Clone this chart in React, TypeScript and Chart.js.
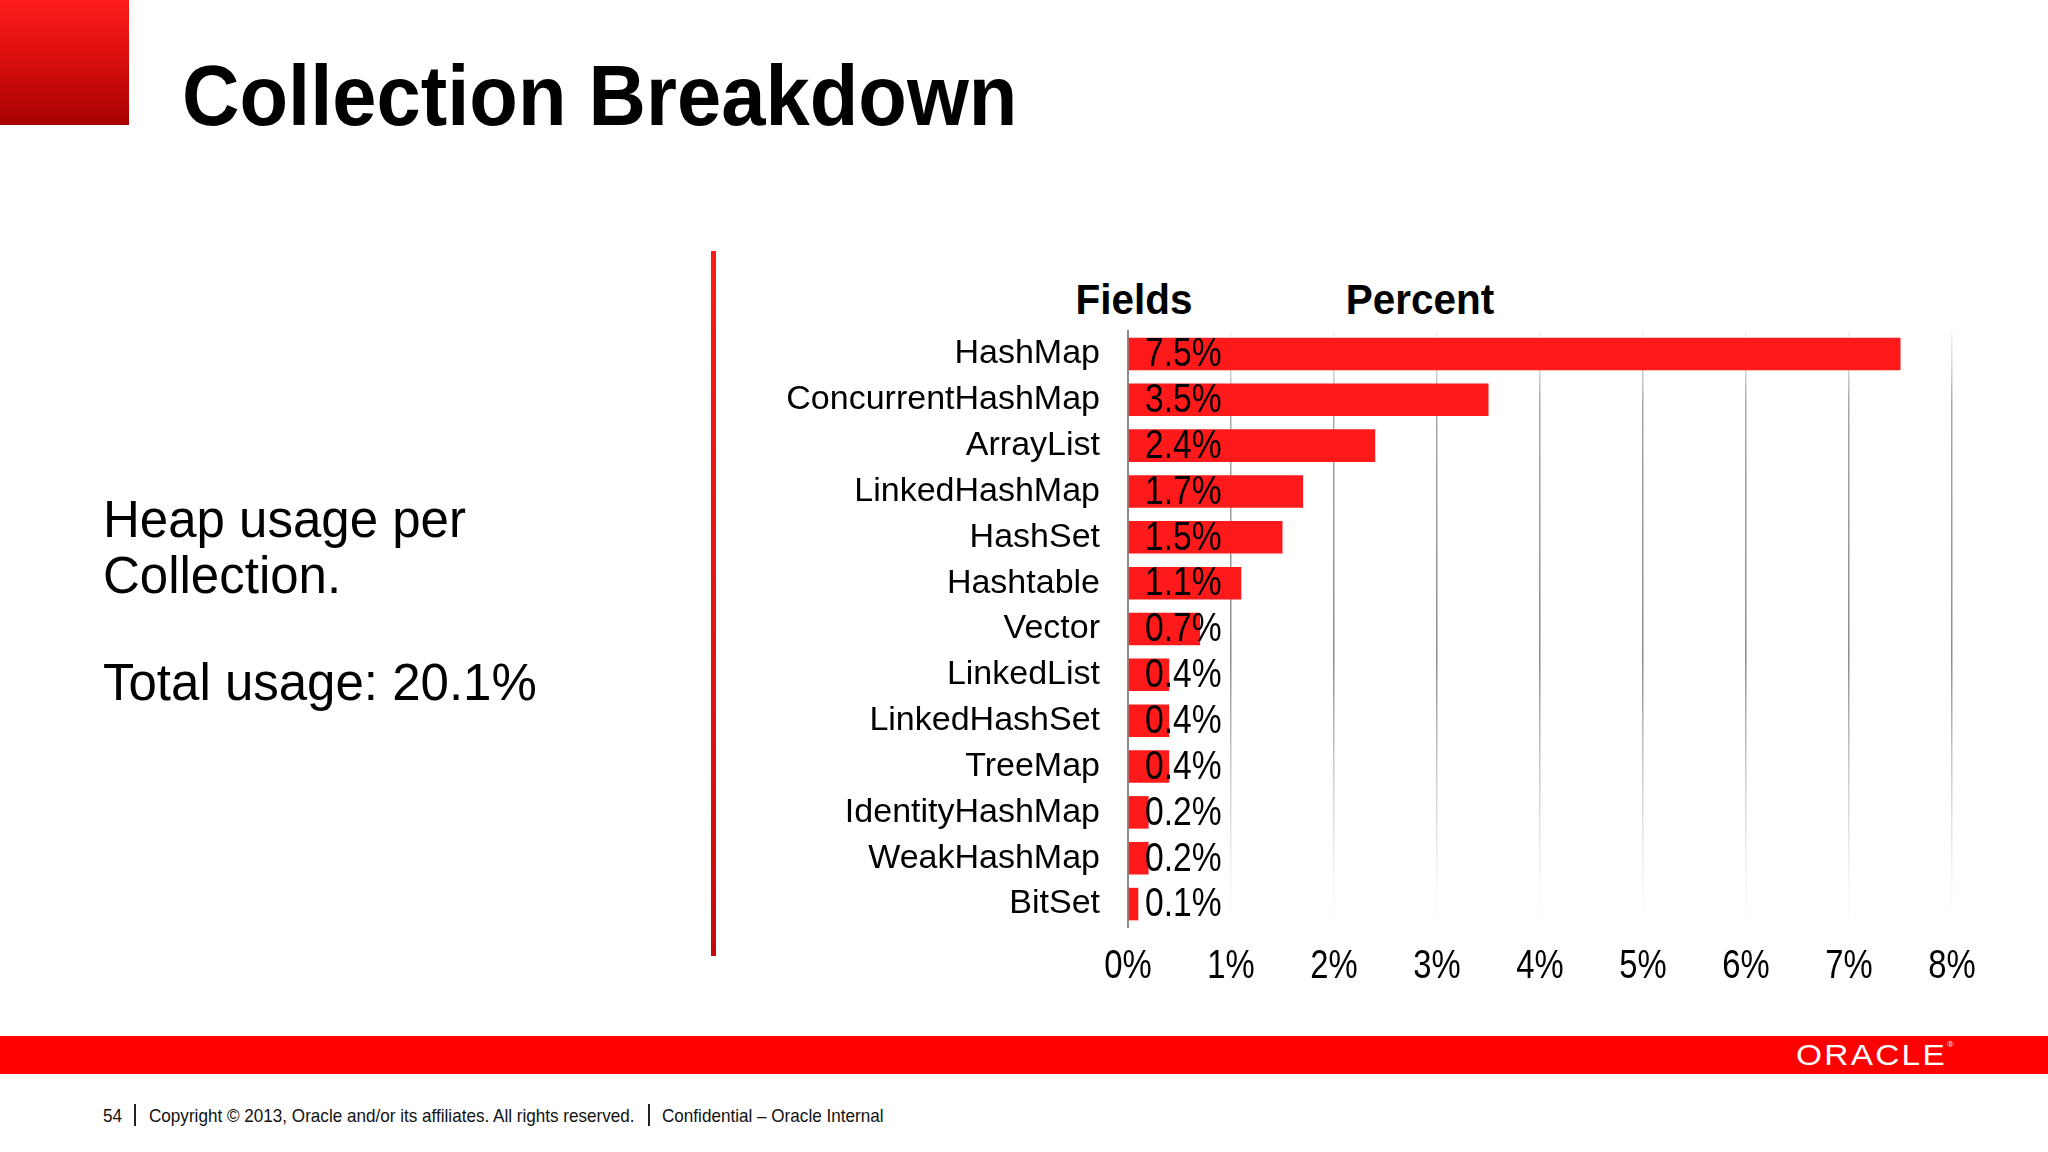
import React, { useEffect, useRef } from "react";
import { Chart, registerables } from "chart.js";

Chart.register(...registerables);

const categories = [
  "HashMap",
  "ConcurrentHashMap",
  "ArrayList",
  "LinkedHashMap",
  "HashSet",
  "Hashtable",
  "Vector",
  "LinkedList",
  "LinkedHashSet",
  "TreeMap",
  "IdentityHashMap",
  "WeakHashMap",
  "BitSet",
];
const percentValues = [7.5, 3.5, 2.4, 1.7, 1.5, 1.1, 0.7, 0.4, 0.4, 0.4, 0.2, 0.2, 0.1];
const xTickLabels = ["0%", "1%", "2%", "3%", "4%", "5%", "6%", "7%", "8%"];

const titleText = "Collection Breakdown";
const sideLines = ["Heap usage per", "Collection."];
const totalText = "Total usage: 20.1%";
const headerFields = "Fields";
const headerPercent = "Percent";

const SANS = '"Liberation Sans", Arial, Helvetica, sans-serif';
const NARROW = 0.82;

const narrowTextPlugin = {
  id: "narrowText",
  afterDraw(chart: any) {
    const ctx = chart.ctx;
    const xs = chart.scales.x;
    ctx.save();
    ctx.fillStyle = "#000";
    // x tick labels
    ctx.font = `40px ${SANS}`;
    ctx.textAlign = "center";
    ctx.textBaseline = "middle";
    xs.ticks.forEach((t: any) => {
      const px = xs.getPixelForValue(t.value);
      ctx.save();
      ctx.translate(px, xs.top + 40);
      ctx.scale(NARROW, 1);
      ctx.fillText(String(t.label), 0, 0);
      ctx.restore();
    });
    // value labels
    ctx.font = `41px ${SANS}`;
    const meta = chart.getDatasetMeta(0);
    const x0 = xs.getPixelForValue(0);
    ctx.textAlign = "left";
    meta.data.forEach((el: any, i: number) => {
      const v = chart.data.datasets[0].data[i];
      ctx.save();
      ctx.translate(x0 + 17, el.y + 1);
      ctx.scale(NARROW, 1);
      ctx.fillText(`${Number(v).toFixed(1)}%`, 0, 0);
      ctx.restore();
    });
    ctx.restore();
  },
};

function ChartBox() {
  const ref = useRef<HTMLCanvasElement | null>(null);
  useEffect(() => {
    if (!ref.current) return;
    const chart = new Chart(ref.current, {
      type: "bar",
      data: {
        labels: categories,
        datasets: [
          {
            data: percentValues,
            backgroundColor: "#fe1a1a",
            borderWidth: 0,
            barPercentage: 0.71,
            categoryPercentage: 1,
          },
        ],
      },
      options: {
        indexAxis: "y",
        animation: false,
        responsive: false,
        devicePixelRatio: 1,
        layout: { padding: { top: 131, right: 48, bottom: 0, left: 0 } },
        plugins: {
          legend: { display: false },
          tooltip: { enabled: false },
          title: { display: false },
        },
        scales: {
          x: {
            type: "linear",
            min: 0,
            max: 8,
            ticks: {
              stepSize: 1,
              display: false,
              callback: (_v: any, i: number) => xTickLabels[i],
            },
            border: { display: false },
            grid: {
              drawTicks: false,
              lineWidth: 1.5,
              color: (c: any) => {
                if (c.index === 0) return "rgba(0,0,0,0)";
                const ch = c.chart;
                const area = ch.chartArea;
                if (!area) return "rgba(120,120,120,0.5)";
                const g = ch.ctx.createLinearGradient(0, area.top, 0, area.bottom);
                g.addColorStop(0, "rgba(170,170,170,0.15)");
                g.addColorStop(0.12, "rgba(110,110,110,0.6)");
                g.addColorStop(0.55, "rgba(100,100,100,0.75)");
                g.addColorStop(0.85, "rgba(170,170,170,0.3)");
                g.addColorStop(1, "rgba(230,230,230,0.05)");
                return g;
              },
            },
            afterFit: (s: any) => {
              s.height = 93;
            },
          },
          y: {
            type: "category",
            ticks: {
              color: "#000",
              padding: 28,
              font: { family: SANS, size: 34 },
            },
            grid: { display: false, drawTicks: false },
            border: { display: true, color: "#8c8c8c", width: 2 },
            afterFit: (s: any) => {
              s.width = 568;
            },
          },
        },
      },
      plugins: [narrowTextPlugin],
    });
    return () => chart.destroy();
  }, []);
  return (
    <canvas
      ref={ref}
      width={1440}
      height={820}
      style={{ position: "absolute", left: 560, top: 200, width: 1440, height: 820 }}
    />
  );
}

export default function App() {
  const abs = (o: any) => ({ position: "absolute" as const, whiteSpace: "nowrap" as const, ...o });
  return (
    <div
      style={{
        position: "absolute",
        left: 0,
        top: 0,
        width: 2048,
        height: 1152,
        overflow: "hidden",
        background: "#fff",
        fontFamily: SANS,
        color: "#000",
      }}
    >
      {/* red corner block */}
      <div
        style={abs({
          left: 0,
          top: 0,
          width: 129,
          height: 125,
          background: "linear-gradient(180deg, #ff1c1c 0%, #e01010 40%, #a80000 100%)",
        })}
      />
      {/* title */}
      <div
        style={abs({
          left: 182,
          top: 52,
          fontSize: 86,
          lineHeight: 1,
          fontWeight: 700,
          transform: "scaleX(0.925)",
          transformOrigin: "0 0",
        })}
      >
        {titleText}
      </div>
      {/* side text */}
      {sideLines.map((t, i) => (
        <div key={i} style={abs({ left: 103, top: 492 + i * 56, fontSize: 51, lineHeight: "56px" })}>
          {t}
        </div>
      ))}
      <div style={abs({ left: 103, top: 655, fontSize: 51, lineHeight: "56px" })}>{totalText}</div>
      {/* red divider */}
      <div
        style={abs({
          left: 711,
          top: 251,
          width: 5,
          height: 705,
          background: "linear-gradient(180deg, #ff1a1a 0%, #e01010 70%, #c80808 100%)",
        })}
      />
      {/* headers */}
      <div
        style={abs({
          left: 1134,
          top: 299,
          fontSize: 43,
          fontWeight: 700,
          lineHeight: 1,
          transform: "translate(-50%, -50%) scaleX(0.94)",
        })}
      >
        {headerFields}
      </div>
      <div
        style={abs({
          left: 1420,
          top: 299,
          fontSize: 43,
          fontWeight: 700,
          lineHeight: 1,
          transform: "translate(-50%, -50%) scaleX(0.94)",
        })}
      >
        {headerPercent}
      </div>
      <ChartBox />
      {/* bottom band */}
      <div style={abs({ left: 0, top: 1036, width: 2048, height: 38, background: "#fe0000" })} />
      <div
        style={abs({
          left: 1796,
          top: 1055,
          color: "#fff",
          fontSize: 29,
          lineHeight: 1,
          letterSpacing: 2,
          transform: "translateY(-50%) scaleX(1.15)",
          transformOrigin: "0 50%",
        })}
      >
        ORACLE<span style={{ fontSize: 8, verticalAlign: "top", letterSpacing: 0 }}>®</span>
      </div>
      {/* footer */}
      {[
        { x: 103, t: "54" },
        { x: 149, t: "Copyright © 2013, Oracle and/or its affiliates. All rights reserved." },
        { x: 662, t: "Confidential – Oracle Internal" },
      ].map((f, i) => (
        <div
          key={i}
          style={abs({
            left: f.x,
            top: 1115,
            fontSize: 19,
            lineHeight: 1,
            color: "#111",
            transform: "translateY(-50%) scaleX(0.9)",
            transformOrigin: "0 50%",
          })}
        >
          {f.t}
        </div>
      ))}
      <div style={abs({ left: 134, top: 1104, width: 1.5, height: 22, background: "#222" })} />
      <div style={abs({ left: 648, top: 1104, width: 1.5, height: 22, background: "#222" })} />
    </div>
  );
}
